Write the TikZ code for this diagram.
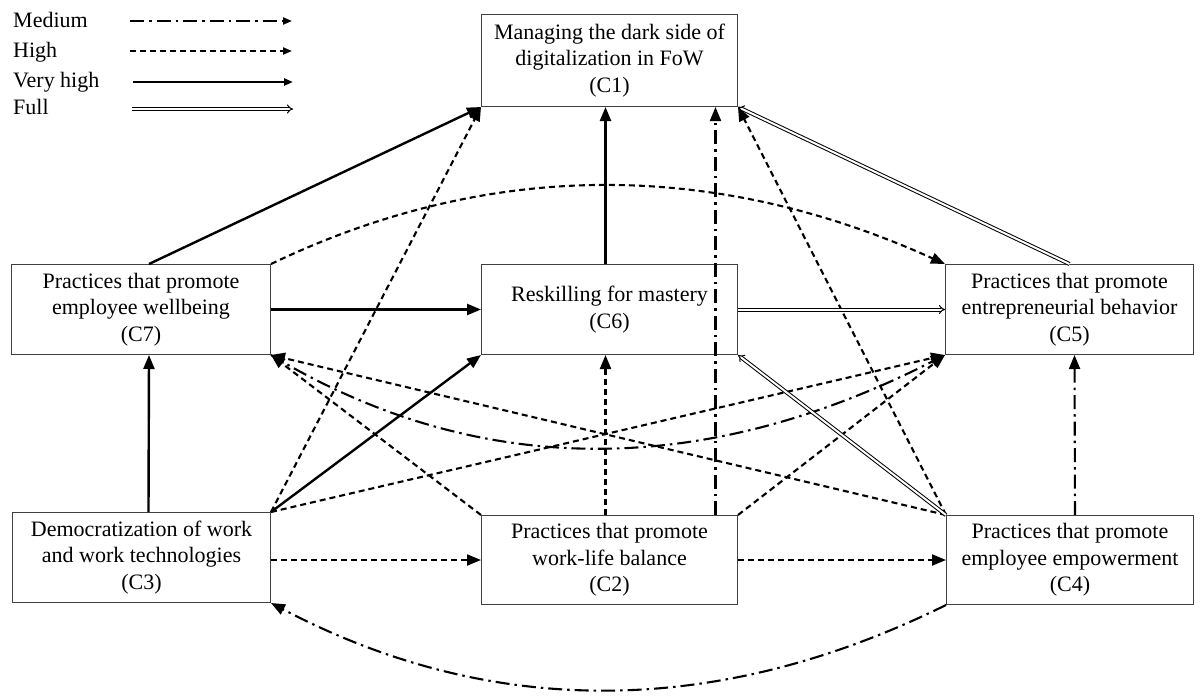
\documentclass[tikz,border=0pt]{standalone}
\usepackage{fontspec}
\setmainfont{Liberation Serif}
\usetikzlibrary{arrows.meta,calc}
\begin{document}
\begin{tikzpicture}[x=1pt,y=-1pt,
 box/.style={draw=black!75,line width=1pt,rectangle,align=center,inner sep=0pt,anchor=north west,font=\fontsize{22}{26.5}\selectfont},
 lbl/.style={anchor=base west,inner sep=0pt,font=\fontsize{22}{26.5}\selectfont},
 tip/.style={-{Triangle[length=14pt,width=11pt]}},
 ltip/.style={-{Triangle[length=9pt,width=7pt]}},
 vh/.style={line width=2.4pt},
 hi/.style={line width=2.1pt,dash pattern=on 6pt off 4pt},
 med/.style={line width=2.1pt,dash pattern=on 14pt off 5pt on 2.5pt off 5pt},
 full/.style={-{Implies},double,double distance=2pt,line width=1pt},
]
\useasboundingbox (0,0) rectangle (1200,699);
\fill[white] (0,0) rectangle (1200,699);

% legend
\node[lbl] (lmed) at (13,27) {Medium};
\node[lbl] (lhigh) at (13,57) {High};
\node[lbl] (lvh) at (13,87) {Very high};
\node[lbl] (lfull) at (13,114) {Full};
\coordinate (m1) at (130,21); \coordinate (m2) at (292,21);
\coordinate (h1) at (130,51); \coordinate (h2) at (292,51);
\coordinate (v1) at (133,82); \coordinate (v2) at (293,82);
\coordinate (f1) at (132,109); \coordinate (f2) at (293,109);
\draw[med,ltip] (m1) -- (m2);
\draw[hi,ltip] (h1) -- (h2);
\draw[vh,ltip] (v1) -- (v2);
\draw[full] (f1) -- (f2);

% boxes
\node[box,minimum width=256pt,minimum height=92pt] (c1) at (481,14) {Managing the dark side of\\digitalization in FoW\\(C1)};
\node[box,minimum width=259pt,minimum height=90pt] (c7) at (11,264) {Practices that promote\\employee wellbeing\\(C7)};
\node[box,minimum width=256pt,minimum height=90pt] (c6) at (481,264) {Reskilling for mastery\\(C6)};
\node[box,minimum width=248pt,minimum height=90pt] (c5) at (945,264) {Practices that promote\\entrepreneurial behavior\\(C5)};
\node[box,minimum width=258pt,minimum height=90pt] (c3) at (12,512) {Democratization of work\\and work technologies\\(C3)};
\node[box,minimum width=256pt,minimum height=89pt] (c2) at (481,515) {Practices that promote\\work-life balance\\(C2)};
\node[box,minimum width=247pt,minimum height=89pt] (c4) at (946,515) {Practices that promote\\employee empowerment\\(C4)};

% helper coordinates
\coordinate (c7t) at ($(c7.north)+(8,0)$);
\coordinate (c7b) at ($(c7.south)+(8,0)$);
\coordinate (c3t) at ($(c3.north)+(7,0)$);
\coordinate (c6t) at ($(c6.north)+(-4,0)$);
\coordinate (c6b) at ($(c6.south)+(-4,0)$);
\coordinate (c1b) at ($(c1.south)+(-4,0)$);
\coordinate (c2t) at ($(c2.north)+(-4,0)$);
\coordinate (c2tr) at ($(c2.north)+(106,0)$);
\coordinate (c1br) at ($(c1.south)+(106,0)$);
\coordinate (c4t) at ($(c4.north)+(5,0)$);
\coordinate (c5b) at ($(c5.south)+(5,0)$);

% very high
\draw[vh,tip] (c7t) -- (c1.south west);
\draw[vh,tip] (c6t) -- (c1b);
\draw[vh,tip] (c7.east) -- (c6.west);
\draw[vh,tip] (c3t) -- (c7b);
\draw[vh,tip] (c3.north east) -- (c6.south west);

% high
\draw[hi,tip] (c3.north east) -- (c1.south west);
\draw[hi,tip] (c4.north west) -- (c1.south east);
\draw[hi,tip] (c7.north east) .. controls (490,159) and (715,160) .. (c5.north west);
\draw[hi,tip] (c3.north east) -- (c5.south west);
\draw[hi,tip] (c2.north west) -- (c7.south east);
\draw[hi,tip] (c4.north west) -- (c7.south east);
\draw[hi,tip] (c2t) -- (c6b);
\draw[hi,tip] (c2.north east) -- (c5.south west);
\draw[hi,tip] (c3.east |- c2.west) -- (c2.west);
\draw[hi,tip] (c2.east) -- (c4.west);

% medium
\draw[med,tip] (c2tr) -- (c1br);
\draw[med,tip] (c7.south east) .. controls (477,479) and (702,479) .. (c5.south west);
\draw[med,tip] (c4t) -- (c5b);
\draw[med,tip] (c4.south west) .. controls (715,719) and (490,718) .. (c3.south east);

% full
\draw[full] (c5.north) -- (c1.south east);
\draw[full] (c6.east) -- (c5.west);
\draw[full] (c4.north west) -- (c6.south east);
\end{tikzpicture}
\end{document}
